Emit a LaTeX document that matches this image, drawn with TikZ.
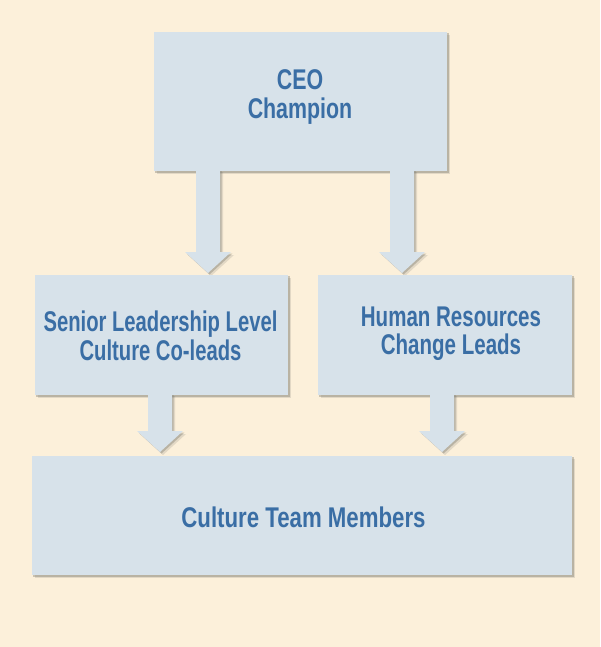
\documentclass[tikz,border=0pt]{standalone}
\usepackage{fontspec}
\setmainfont[FakeStretch=0.75]{Liberation Sans}
\usetikzlibrary{calc}
\pgfdeclarelayer{bg}
\pgfdeclarelayer{shade}
\pgfsetlayers{bg,shade,main}
\definecolor{paper}{HTML}{FCF0DA}
\definecolor{boxc}{HTML}{D7E2EA}
\definecolor{textc}{HTML}{3A6EA5}
\definecolor{shadc}{HTML}{6E6E66}
\tikzset{
  box/.style={rectangle, fill=boxc, draw=none, inner sep=0pt},
  lbl/.style={text=textc, font=\fontsize{28.5}{28.5}\selectfont\bfseries, align=center, text depth=0pt, inner sep=0pt},
  shadeA/.style={fill=shadc, opacity=0.35},
  shadeB/.style={fill=shadc, opacity=0.18},
}
% #1 source node anchor, #2 tip coordinate, #3 offset
\newcommand\arrowpts[3]{($(#1 -| #2)+(-12,-2)+(#3)$) -- ($(#2)+(-12,-21)+(#3)$) -- ($(#2)+(-23,-21)+(#3)$) -- ($(#2)+(#3)$) -- ($(#2)+(23,-21)+(#3)$) -- ($(#2)+(12,-21)+(#3)$) -- ($(#1 -| #2)+(12,-2)+(#3)$) -- cycle}
\newcommand\boxshadow[2]{($(#1.north west)+(#2)$) rectangle ($(#1.south east)+(#2)$)}
\begin{document}
\begin{tikzpicture}[x=1pt,y=-1pt]
\useasboundingbox (0,0) rectangle (600,647);
\begin{pgfonlayer}{bg}
  \fill[paper] (0,0) rectangle (600,647);
\end{pgfonlayer}

% boxes
\node[box, minimum width=293pt, minimum height=139pt] (ceo) at (300.5,101.5) {};
\node[box, minimum width=253pt, minimum height=120pt] (sl) at (161.5,335) {};
\node[box, minimum width=254pt, minimum height=120pt] (hr) at (445,335) {};
\node[box, minimum width=540pt, minimum height=119pt] (team) at (302,515.5) {};

% labels
\node[lbl] (ceot) at (300,93.9) {CEO\\Champion};
\node[lbl] (slt) at (160.5,335.6) {\addfontfeature{FakeStretch=0.71}Senior Leadership Level\\\addfontfeature{FakeStretch=0.71}Culture Co-leads};
\node[lbl] (hrt) at (451,330.6) {\addfontfeature{FakeStretch=0.72}Human Resources\\\addfontfeature{FakeStretch=0.72}Change Leads};
\node[lbl] (teamt) at (303.5,517.1) {\addfontfeature{FakeStretch=0.78}Culture Team Members};

% arrow tips
\coordinate (t1) at (208,273);
\coordinate (t2) at (402,273);
\coordinate (t3) at (160,452);
\coordinate (t4) at (442,452);

% shadows
\begin{pgfonlayer}{shade}
  \foreach \n in {ceo,sl,hr,team}{
    \fill[shadeB] \boxshadow{\n}{3,3};
    \fill[shadeA] \boxshadow{\n}{1.5,1.5};
  }
  \fill[shadeB] \arrowpts{ceo.south}{t1}{3,3};
  \fill[shadeA] \arrowpts{ceo.south}{t1}{1.5,1.5};
  \fill[shadeB] \arrowpts{ceo.south}{t2}{3,3};
  \fill[shadeA] \arrowpts{ceo.south}{t2}{1.5,1.5};
  \fill[shadeB] \arrowpts{sl.south}{t3}{3,3};
  \fill[shadeA] \arrowpts{sl.south}{t3}{1.5,1.5};
  \fill[shadeB] \arrowpts{hr.south}{t4}{3,3};
  \fill[shadeA] \arrowpts{hr.south}{t4}{1.5,1.5};
\end{pgfonlayer}

% block arrows
\fill[boxc] \arrowpts{ceo.south}{t1}{0,0};
\fill[boxc] \arrowpts{ceo.south}{t2}{0,0};
\fill[boxc] \arrowpts{sl.south}{t3}{0,0};
\fill[boxc] \arrowpts{hr.south}{t4}{0,0};
\end{tikzpicture}
\end{document}
